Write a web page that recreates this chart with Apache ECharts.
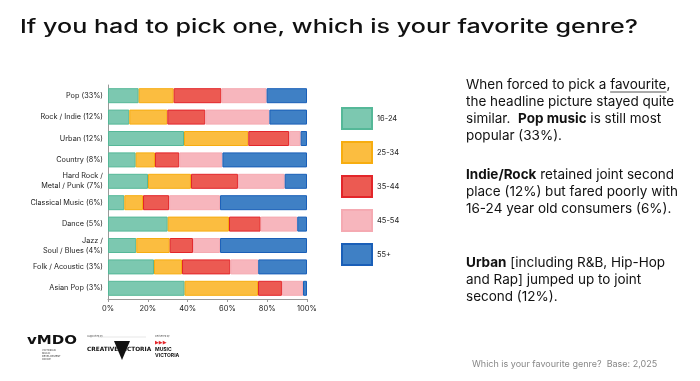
<!DOCTYPE html>
<html><head><meta charset="utf-8">
<script src="https://cdn.jsdelivr.net/npm/echarts@6/dist/echarts.min.js"></script>
<style>html,body{margin:0;padding:0;background:#fff}#c{width:700px;height:381px}</style>
</head><body><div id="c"></div>
<script>
const categories = ['Pop (33%)','Rock / Indie (12%)','Urban (12%)','Country (8%)','Hard Rock /\nMetal / Punk (7%)','Classical Music (6%)','Dance (5%)','Jazz /\nSoul / Blues (4%)','Folk / Acoustic (3%)','Asian Pop (3%)'];
const ageGroups = ['16-24','25-34','35-44','45-54','55+'];
const s1624 = [15.4,10.7,38.2,13.9,20.1,8.2,30.0,14.2,23.1,38.5];
const s2534 = [17.6,19.1,32.3,9.7,21.6,9.4,30.8,16.8,14.1,36.9];
const s3544 = [24.0,19.1,20.5,12.2,23.6,13.1,15.9,11.7,24.3,12.0];
const s4554 = [22.7,32.2,5.8,21.7,23.5,25.6,18.4,13.6,14.0,10.6];
const s55 = [20.3,18.9,3.2,42.5,11.2,43.7,4.9,43.7,24.5,2.0];
const xTicks = ['0%','20%','40%','60%','80%','100%'];
const titleText = 'If you had to pick one, which is your favorite genre?';

const fills = ['#7cc8b0','#fbbd40','#ec5a52','#f7b6bd','#3f80c5'];
const borders = ['#55b898','#f7ad10','#e3262a','#f5aab2','#1a5fb8'];
const FONT = 'Inter';
const PFS = 13.5;
const TFS = 18.5;
const seriesData = [s1624,s2534,s3544,s4554,s55];

const ctx = document.createElement('canvas').getContext('2d');
ctx.font = PFS + 'px ' + FONT;
const ulX1 = 466 + ctx.measureText('When forced to pick a ').width;
const ulX2 = ulX1 + ctx.measureText('favourite').width;
ctx.font = '500 ' + TFS + 'px ' + FONT;
const titleScale = 618 / ctx.measureText(titleText).width;
ctx.font = 'bold 13px DejaVu Sans';
const logoScale = 50 / ctx.measureText('vMDO').width;

const chart = echarts.init(document.getElementById('c'));
const rich = {u:{fontSize:PFS,fontFamily:FONT,fill:'#111'},b:{fontSize:PFS,fontFamily:FONT,fontWeight:'bold',fill:'#111'}};
chart.setOption({
  animation:false,
  textStyle:{fontFamily:FONT},
  grid:{left:108,right:393,top:85,bottom:82},
  legend:{orient:'vertical',left:341,top:107,padding:0,itemWidth:30,itemHeight:21,itemGap:11,
    data:ageGroups,textStyle:{fontSize:7.5,color:'#222',fontFamily:FONT},icon:'rect'},
  xAxis:{type:'value',min:0,max:100,interval:20,
    axisLine:{show:true,lineStyle:{color:'#999'}},axisTick:{show:true,length:3,lineStyle:{color:'#999'}},
    splitLine:{show:false},
    axisLabel:{fontSize:7.5,color:'#222',margin:6,formatter:(v)=>xTicks[v/20]}},
  yAxis:{type:'category',inverse:true,data:categories,
    axisLine:{show:true,lineStyle:{color:'#999'}},axisTick:{show:false},
    axisLabel:{fontSize:7.3,color:'#222',margin:5,lineHeight:10}},
  series:seriesData.map((d,i)=>({name:ageGroups[i],type:'bar',stack:'a',data:d,barWidth:15,
    itemStyle:{color:fills[i],borderColor:borders[i],borderWidth:1}})),
  graphic:[
    {type:'text',x:20,y:27,scaleX:titleScale,style:{text:titleText,fontSize:TFS,fontWeight:500,fontFamily:FONT,fill:'#111',verticalAlign:'middle'}},
    {type:'text',left:466,top:76,style:{
      text:'When forced to pick a {u|favourite},\nthe headline picture stayed quite\nsimilar.  {b|Pop music} is still most\npopular (33%).',
      fontSize:PFS,lineHeight:17.2,fontFamily:FONT,fill:'#111',rich:rich}},
    {type:'line',shape:{x1:ulX1,y1:92,x2:ulX2,y2:92},style:{stroke:'#555',lineWidth:1}},
    {type:'text',left:466,top:166,style:{
      text:'{b|Indie/Rock} retained joint second\nplace (12%) but fared poorly with\n16-24 year old consumers (6%).',
      fontSize:PFS,lineHeight:17.2,fontFamily:FONT,fill:'#111',rich:rich}},
    {type:'text',left:466,top:254,style:{
      text:'{b|Urban} [including R&B, Hip-Hop\nand Rap] jumped up to joint\nsecond (12%).',
      fontSize:PFS,lineHeight:17.2,fontFamily:FONT,fill:'#111',rich:rich}},
    {type:'text',left:472,top:360,style:{text:'Which is your favourite genre?  Base: 2,025',fontSize:9,fontFamily:FONT,fill:'#888'}},
    {type:'text',x:27,y:341,scaleX:logoScale,style:{text:'vMDO',fontSize:13,fontWeight:'bold',fontFamily:'DejaVu Sans',fill:'#111',verticalAlign:'middle'}},
    {type:'text',left:42,top:349,style:{text:'VICTORIAN\nMUSIC\nDEVELOPMENT\nOFFICE',fontSize:2.5,lineHeight:3,fontFamily:FONT,fill:'#333'}},
    {type:'text',left:87,top:335,style:{text:'Supported by',fontSize:2.5,fontFamily:FONT,fill:'#555'}},
    {type:'line',shape:{x1:98,y1:337,x2:146,y2:337},style:{stroke:'#ccc',lineWidth:0.5}},
    {type:'polygon',shape:{points:[[114,341],[130,341],[122,360]]},style:{fill:'#111'}},
    {type:'text',left:87,top:346,style:{text:'CREATIVE VICTORIA',fontSize:5.8,fontWeight:'bold',fontFamily:'DejaVu Sans',fill:'#111'}},
    {type:'text',left:155,top:335,style:{text:'Delivered by',fontSize:2.5,fontFamily:FONT,fill:'#555'}},
    {type:'text',left:155,top:340,style:{text:'▶▶▶',fontSize:5,fontFamily:'DejaVu Sans',fill:'#e3262a'}},
    {type:'text',left:155,top:347,style:{text:'MUSIC\nVICTORIA',fontSize:5,lineHeight:5.5,fontWeight:'bold',fontFamily:FONT,fill:'#111'}}
  ]
});
</script></body></html>
